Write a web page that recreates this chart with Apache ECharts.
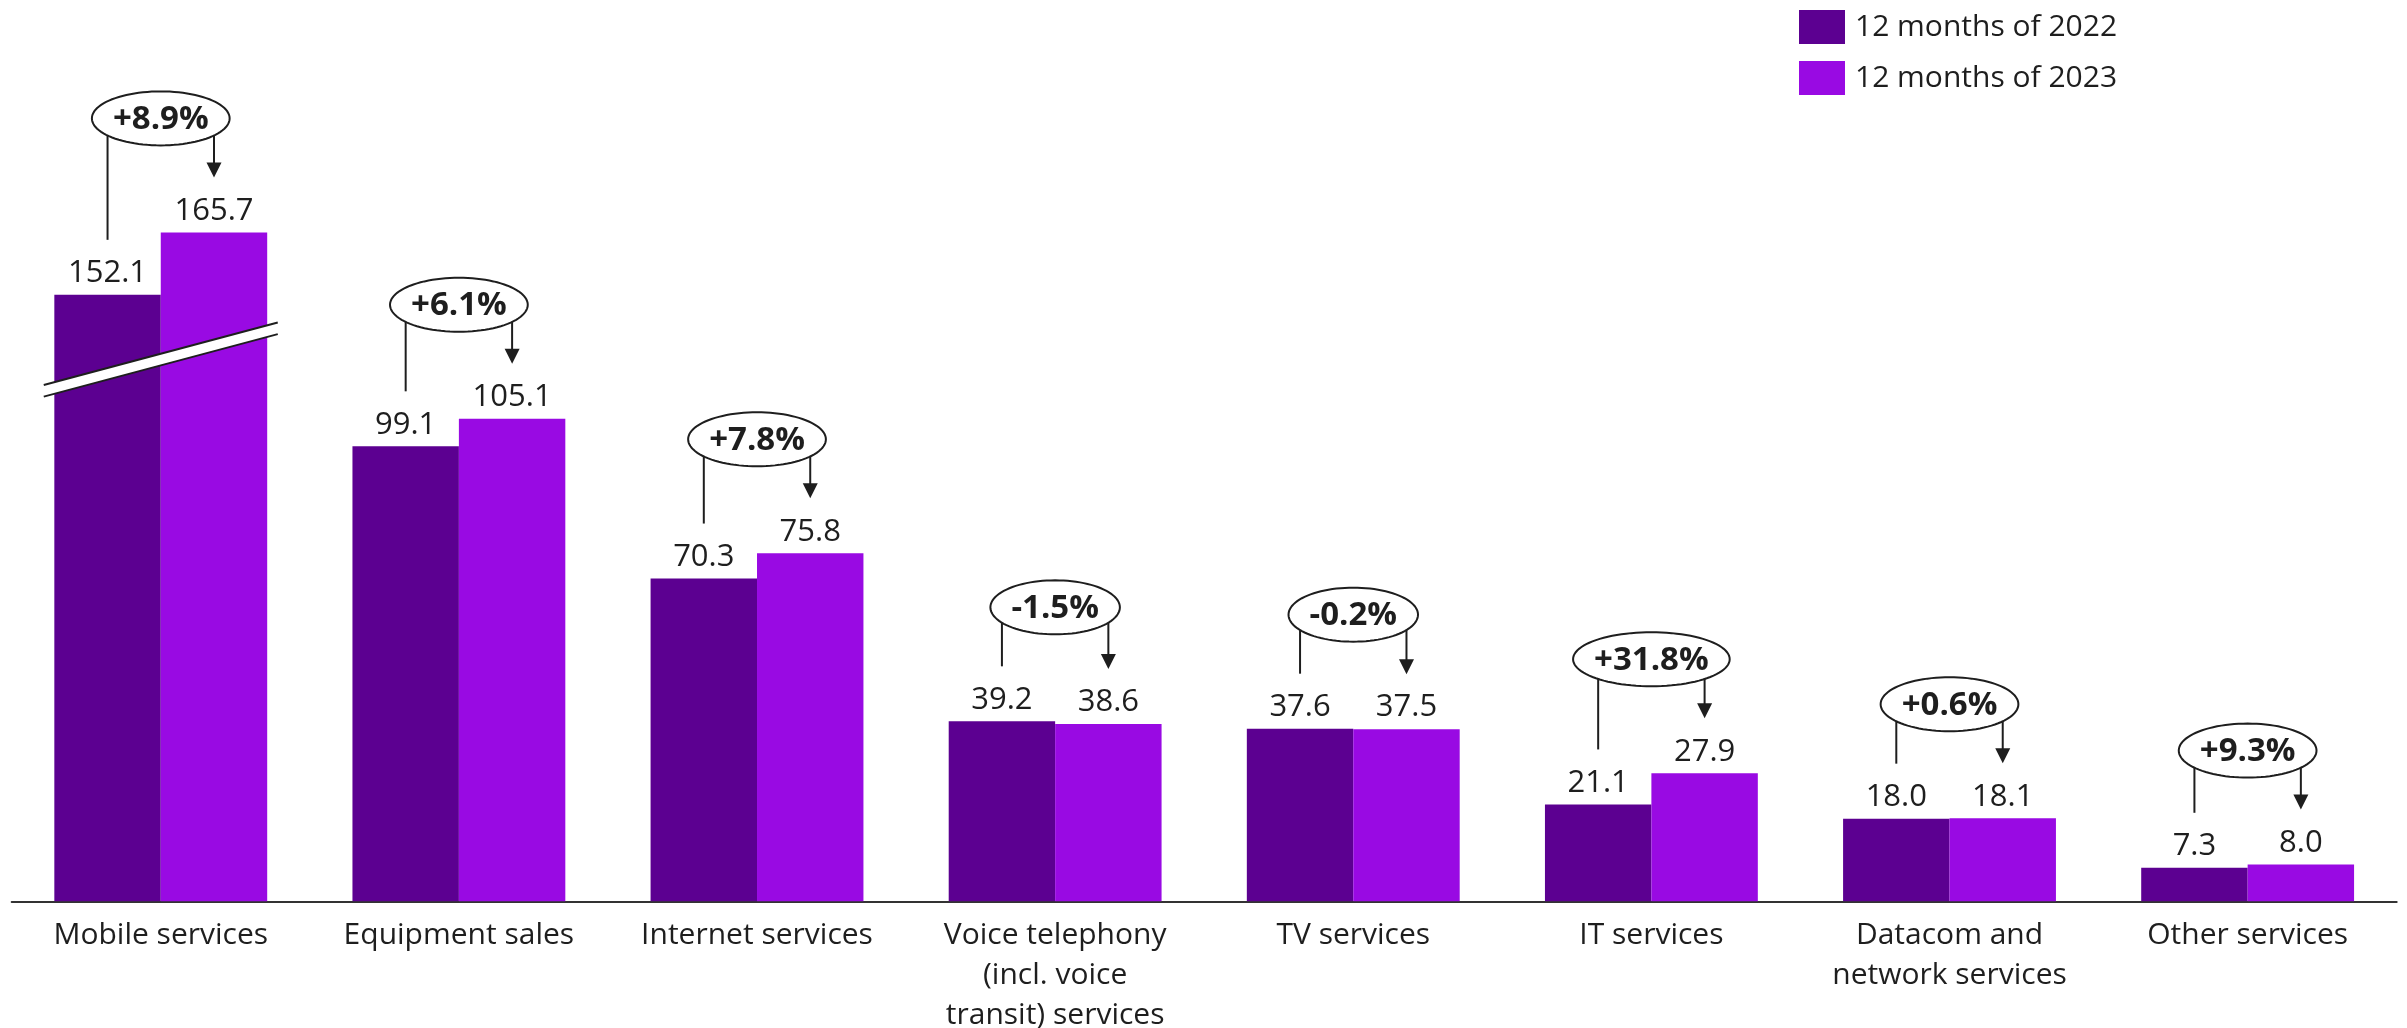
<!DOCTYPE html>
<html>
<head>
<meta charset="utf-8">
<script src="https://cdn.jsdelivr.net/npm/echarts@6/dist/echarts.min.js"></script>
<style>
html,body{margin:0;padding:0;background:#fff;}
#chart{width:2407px;height:1028px;}
</style>
</head>
<body>
<div id="chart"></div>
<script>
// ---- data ----
const categories = ['Mobile services', 'Equipment sales', 'Internet services',
  'Voice telephony\n(incl. voice\ntransit) services', 'TV services', 'IT services',
  'Datacom and\nnetwork services', 'Other services'];
const values2022 = [152.1, 99.1, 70.3, 39.2, 37.6, 21.1, 18.0, 7.3];
const values2023 = [165.7, 105.1, 75.8, 38.6, 37.5, 27.9, 18.1, 8.0];
const changeLabels = ['+8.9%', '+6.1%', '+7.8%', '-1.5%', '-0.2%', '+31.8%', '+0.6%', '+9.3%'];
const seriesNames = ['12 months of 2022', '12 months of 2023'];
const axisBreak = { start: 118, end: 138 };

// ---- style ----
const C22 = '#5c0091', C23 = '#990ae3', INK = '#1e1e1e';
const FONT = '"Open Sans", Lato, sans-serif';
const BAR_GAP_CAT = 0.286;

const measureCtx = document.createElement('canvas').getContext('2d');
function textWidth(t, font) { measureCtx.font = font; return measureCtx.measureText(t).width; }

const chart = echarts.init(document.getElementById('chart'), null, { renderer: 'canvas' });

function ellipsePoints(cx, cy, rx, ry) {
  const pts = [];
  for (let k = 0; k < 96; k++) {
    const a = k / 96 * Math.PI * 2;
    pts.push([cx + rx * Math.cos(a), cy + ry * Math.sin(a)]);
  }
  return pts;
}

function renderChange(params, api) {
  const i = api.value(0);
  const a = api.value(1), b = api.value(2);
  const base = api.coord([i, 0]);
  const cx = base[0];
  const band = api.size([1, 0])[0];
  const bw = band * (1 - BAR_GAP_CAT) / 2;
  const xa = cx - bw / 2, xb = cx + bw / 2;
  const ya = api.coord([i, a])[1], yb = api.coord([i, b])[1];
  const topY = Math.min(ya, yb);
  const ecy = topY - 114;
  const label = changeLabels[params.dataIndex];
  const font = 'bold 33px ' + FONT;
  const tw = textWidth(label, font);
  const rx = tw / 2 + 21, ry = 27;
  const edgeY = function (x) {
    const d = (x - cx) / rx;
    return ecy + ry * Math.sqrt(Math.max(0, 1 - d * d));
  };
  const stroke = { stroke: INK, lineWidth: 2, fill: null };
  const tipY = yb - 55;
  return {
    type: 'group',
    children: [
      { type: 'line', shape: { x1: xa, y1: ya - 55, x2: xa, y2: edgeY(xa) }, style: stroke },
      { type: 'line', shape: { x1: xb, y1: edgeY(xb), x2: xb, y2: tipY - 12 }, style: stroke },
      { type: 'polygon', shape: { points: [[xb - 7.5, tipY - 15], [xb + 7.5, tipY - 15], [xb, tipY]] }, style: { fill: INK } },
      { type: 'polygon', shape: { points: ellipsePoints(cx, ecy, rx, ry) }, style: { fill: '#fff', stroke: INK, lineWidth: 2 } },
      { type: 'text', style: { x: cx, y: ecy + 1, text: label, font: font, fill: INK, align: 'center', verticalAlign: 'middle' } }
    ]
  };
}

function renderBreak(params, api) {
  const i = api.value(0);
  const p = api.coord([i, axisBreak.start]);
  const cx = p[0], cy = p[1];
  const half = 117, slope = -0.267, h = 5.8;
  const x1 = cx - half, x2 = cx + half;
  const y1 = cy - slope * half, y2 = cy + slope * half;
  return {
    type: 'group',
    children: [
      { type: 'polygon', shape: { points: [[x1, y1 - h], [x2, y2 - h], [x2, y2 + h], [x1, y1 + h]] }, style: { fill: '#fff' } },
      { type: 'line', shape: { x1: x1, y1: y1 - h, x2: x2, y2: y2 - h }, style: { stroke: INK, lineWidth: 2 } },
      { type: 'line', shape: { x1: x1, y1: y1 + h, x2: x2, y2: y2 + h }, style: { stroke: INK, lineWidth: 2 } }
    ]
  };
}

const changeData = categories.map((c, i) => [i, values2022[i], values2023[i]]);
const breakData = categories.map((c, i) => [i, Math.max(values2022[i], values2023[i])])
  .filter(d => d[1] > axisBreak.end).map(d => [d[0]]);

const valueLabel = {
  show: true, position: 'top', distance: 6,
  fontFamily: FONT, fontSize: 31, color: INK,
  formatter: p => p.value.toFixed(1)
};

chart.setOption({
  animation: false,
  backgroundColor: '#fff',
  textStyle: { fontFamily: FONT },
  grid: { left: 11.7, right: 10.3, top: 29, bottom: 126.7, containLabel: false, outerBoundsMode: 'none' },
  legend: {
    show: true, orient: 'vertical', left: 1794, top: 5,
    itemWidth: 46, itemHeight: 34, itemGap: 17,
    icon: 'rect',
    textStyle: { fontFamily: FONT, fontSize: 30, color: INK, padding: [0, 0, 0, 5] },
    data: seriesNames
  },
  xAxis: {
    type: 'category', data: categories,
    axisLine: { show: true, lineStyle: { color: '#333', width: 2 } },
    axisTick: { show: false },
    axisLabel: { interval: 0, margin: 14, fontFamily: FONT, fontSize: 30, color: INK, lineHeight: 40 }
  },
  yAxis: {
    type: 'value', min: 0, max: 210, show: false,
    splitLine: { show: false },
    breaks: [{ start: axisBreak.start, end: axisBreak.end, gap: 0 }],
    breakArea: { show: false }
  },
  series: [
    { name: seriesNames[0], type: 'bar', data: values2022, barGap: '0%', barCategoryGap: (BAR_GAP_CAT * 100) + '%',
      itemStyle: { color: C22 }, label: valueLabel, z: 2 },
    { name: seriesNames[1], type: 'bar', data: values2023, barGap: '0%', barCategoryGap: (BAR_GAP_CAT * 100) + '%',
      itemStyle: { color: C23 }, label: valueLabel, z: 2 },
    { type: 'custom', renderItem: renderBreak, data: breakData, clip: false, z: 5, silent: true,
      encode: { x: 0 } },
    { type: 'custom', renderItem: renderChange, data: changeData, clip: false, z: 6, silent: true,
      encode: { x: 0, y: [1, 2] } }
  ]
});
</script>
</body>
</html>
